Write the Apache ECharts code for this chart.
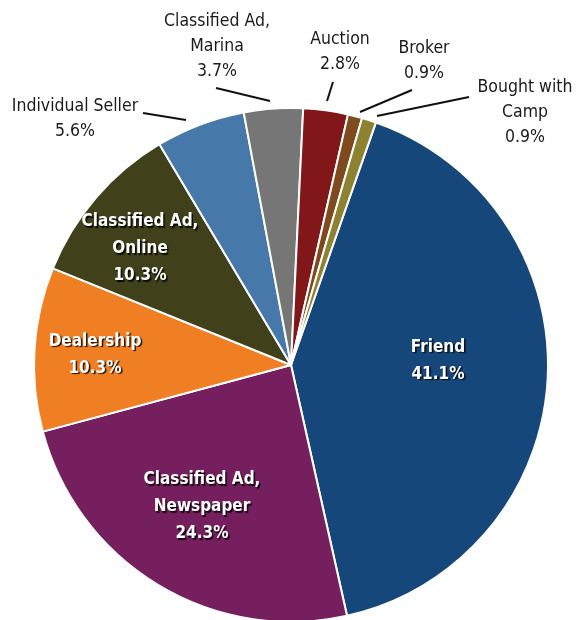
<!DOCTYPE html>
<html>
<head>
<meta charset="utf-8">
<script src="https://cdn.jsdelivr.net/npm/echarts@6/dist/echarts.min.js"></script>
<style>
  html, body { margin: 0; padding: 0; background: #fff; }
  #main { width: 585px; height: 620px; }
</style>
</head>
<body>
<div id="main"></div>
<script>
// data, clockwise starting from "Friend"
var sourceNames = ['Friend', 'Classified Ad,\nNewspaper', 'Dealership', 'Classified Ad,\nOnline',
  'Individual Seller', 'Classified Ad,\nMarina', 'Auction', 'Broker', 'Bought with\nCamp'];
var sourceValues = [41.1, 24.3, 10.3, 10.3, 5.6, 3.7, 2.8, 0.9, 0.9];
var sourceColors = ['#15477a', '#761f5e', '#f07e22', '#40401a', '#4679aa', '#767676', '#811719', '#7f4a1e', '#8d8232'];
var insideLabel = [true, true, true, true, false, false, false, false, false];

// label spots (text centre) and leader lines
var labelSpots = [
  [438, 361], [202, 507], [95, 355], [140, 249],
  [75, 119], [217, 46], [340, 52], [424, 61], [525, 112]
];
var leaderLines = [null, null, null, null,
  [[143, 113], [186, 120]],
  [[216, 88], [270, 101]],
  [[333, 82], [327, 101]],
  [[412, 90], [360, 112]],
  [[469, 97], [377, 116]]
];

var FONT = '"Liberation Sans Narrow", "DejaVu Sans Condensed", "Arial Narrow", sans-serif';

var pieData = sourceNames.map(function (n, i) {
  var item = {
    name: n,
    value: sourceValues[i],
    itemStyle: { color: sourceColors[i] }
  };
  if (insideLabel[i]) {
    item.label = {
      position: 'inside',
      fontFamily: FONT,
      color: '#fff',
      fontWeight: 'bold',
      fontSize: 17,
      lineHeight: 27,
      overflow: 'none',
      textShadowColor: 'rgba(0,0,0,0.85)',
      textShadowOffsetX: 1.5,
      textShadowOffsetY: 1.5,
      textShadowBlur: 1
    };
    item.labelLine = { show: false };
  }
  return item;
});

var myChart = echarts.init(document.getElementById('main'));
var option = {
  backgroundColor: '#fff',
  animation: false,
  series: [{
    type: 'pie',
    center: [291, 365],
    radius: 257,
    startAngle: 70.7,
    clockwise: true,
    avoidLabelOverlap: false,
    itemStyle: { borderColor: '#fff', borderWidth: 2 },
    label: {
      show: true,
      position: 'outside',
      fontFamily: FONT,
      fontSize: 17.5,
      lineHeight: 25,
      color: '#1a1a1a',
      align: 'center',
      overflow: 'none',
      edgeDistance: 0,
      bleedMargin: 0,
      formatter: function (p) {
        return p.name + '\n' + p.value.toFixed(1) + '%';
      }
    },
    labelLine: {
      show: true,
      lineStyle: { color: '#111', width: 2 }
    },
    labelLayout: function (params) {
      var i = params.dataIndex;
      var out = {
        x: labelSpots[i][0],
        y: labelSpots[i][1],
        align: 'center',
        verticalAlign: 'middle'
      };
      if (leaderLines[i]) out.labelLinePoints = [leaderLines[i][0], leaderLines[i][1], leaderLines[i][1]];
      return out;
    },
    data: pieData
  }]
};
myChart.setOption(option);
</script>
</body>
</html>
